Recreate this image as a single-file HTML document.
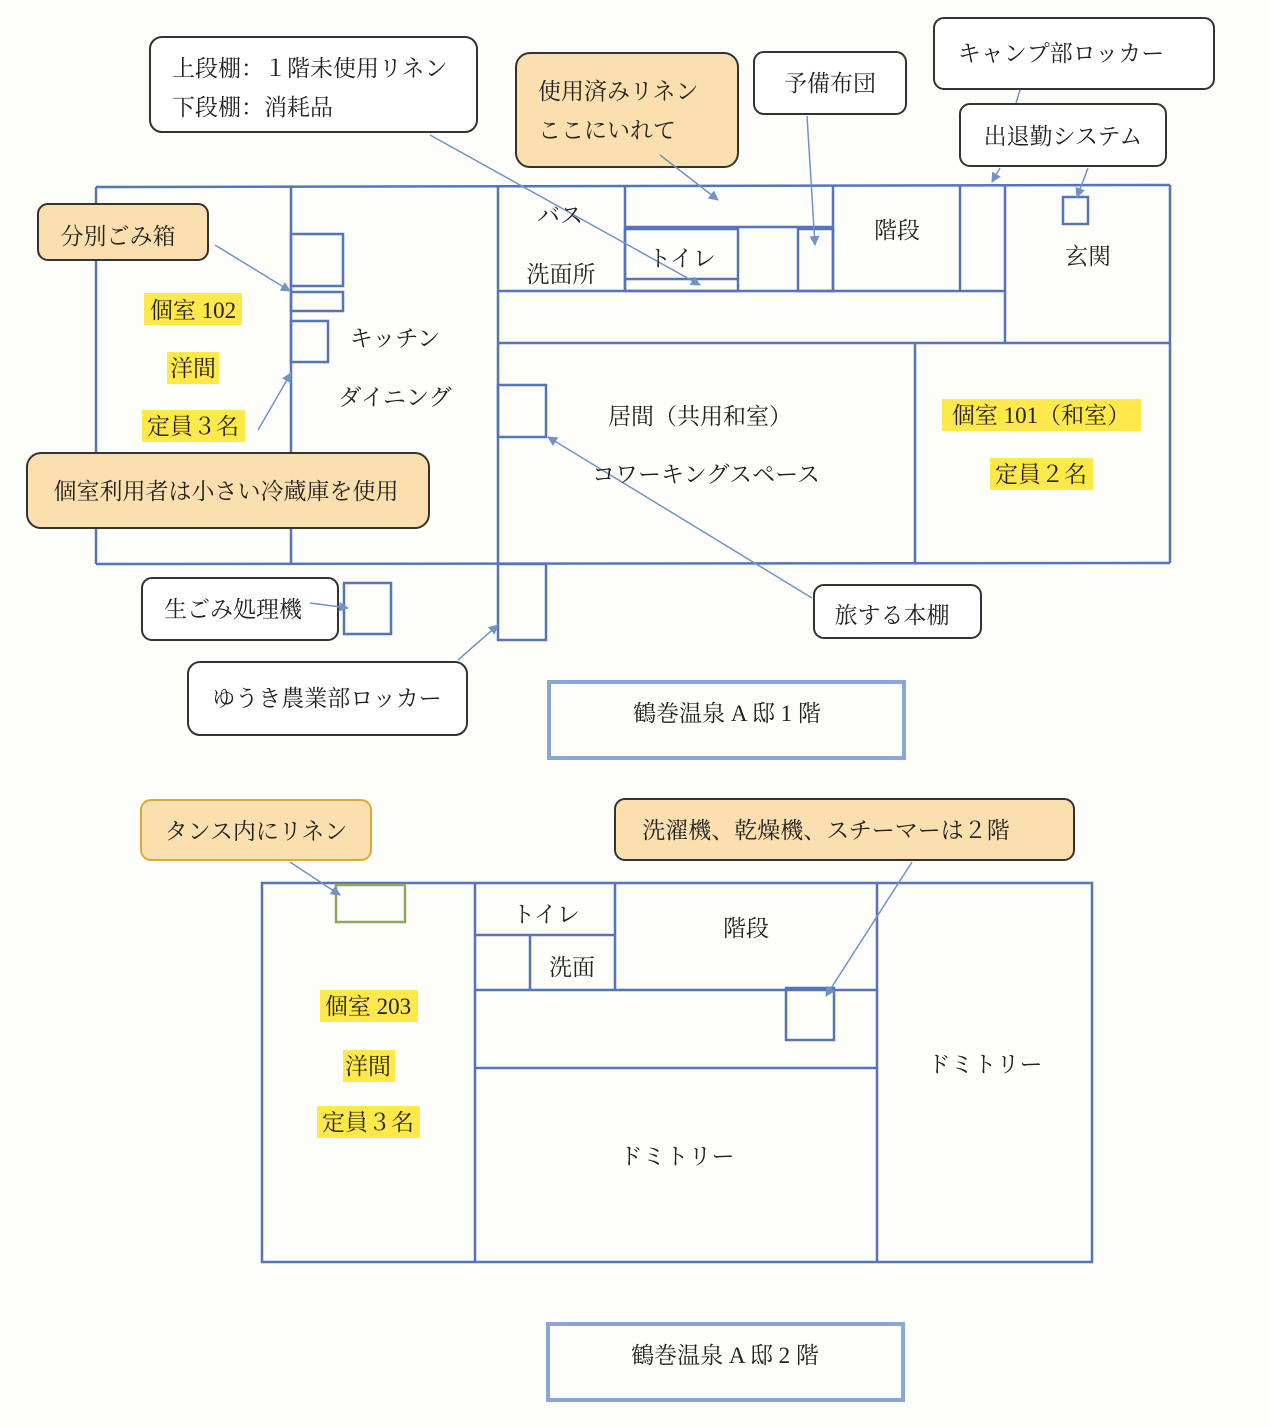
<!DOCTYPE html>
<html><head><meta charset="utf-8"><style>
html,body{margin:0;padding:0;background:#fdfdfa;}
svg{display:block;}
text{font-family:"Liberation Serif","Noto Serif CJK SC","Noto Sans CJK JP",serif;font-size:23px;fill:#222;}
</style></head><body>
<svg width="1270" height="1427" viewBox="0 0 1270 1427" xmlns="http://www.w3.org/2000/svg">
<defs>
<marker id="a" markerWidth="10" markerHeight="10" refX="9" refY="5" orient="auto" markerUnits="userSpaceOnUse"><path d="M0,0 L10,5 L0,10 z" fill="#6f93c9"/></marker>
</defs>
<rect width="1270" height="1427" fill="#fdfdfa"/>
<g fill="none" stroke="#5575b5" stroke-width="2.5">
<!-- floor 1 -->
<line x1="96" y1="187" x2="1170" y2="185"/>
<line x1="96" y1="187" x2="96" y2="564"/>
<line x1="96" y1="564" x2="1170" y2="563"/>
<line x1="1170" y1="185" x2="1170" y2="563"/>
<line x1="291" y1="187" x2="291" y2="564"/>
<line x1="498" y1="187" x2="498" y2="564"/>
<line x1="498" y1="291" x2="1005" y2="291"/>
<line x1="625" y1="187" x2="625" y2="291"/>
<line x1="625" y1="227" x2="833" y2="227"/>
<rect x="625" y="229" width="113" height="62"/>
<line x1="625" y1="279" x2="738" y2="279"/>
<rect x="798" y="229" width="35" height="62"/>
<line x1="833" y1="186" x2="833" y2="291"/>
<line x1="960" y1="186" x2="960" y2="291"/>
<line x1="1005" y1="186" x2="1005" y2="343"/>
<line x1="498" y1="343" x2="1170" y2="343"/>
<line x1="915" y1="343" x2="915" y2="563"/>
<rect x="1063" y="197" width="25" height="27"/>
<rect x="291" y="234" width="52" height="52"/>
<rect x="291" y="292" width="52" height="19"/>
<rect x="291" y="321" width="37" height="41"/>
<rect x="498" y="385" width="48" height="52"/>
<rect x="344" y="583" width="47" height="51"/>
<rect x="498" y="564" width="48" height="76"/>
<!-- floor 2 -->
<rect x="262" y="883" width="830" height="379"/>
<line x1="475" y1="883" x2="475" y2="1262"/>
<line x1="615" y1="883" x2="615" y2="990"/>
<line x1="475" y1="935" x2="615" y2="935"/>
<line x1="530" y1="935" x2="530" y2="990"/>
<line x1="475" y1="990" x2="877" y2="990"/>
<line x1="475" y1="1068" x2="877" y2="1068"/>
<line x1="877" y1="883" x2="877" y2="1262"/>
<rect x="786" y="988" width="48" height="52"/>
</g>
<rect x="336" y="885" width="69" height="37" fill="none" stroke="#8fa85a" stroke-width="2.5"/>
<!-- title boxes -->
<rect x="549" y="682" width="355" height="76" fill="none" stroke="#8aa6d8" stroke-width="4"/>
<rect x="548" y="1324" width="355" height="76" fill="none" stroke="#8aa6d8" stroke-width="4"/>
<!-- callouts -->
<g stroke="#333" stroke-width="2">
<rect x="150" y="37" width="327" height="95" rx="12" fill="#fff"/>
<rect x="516" y="53" width="222" height="114" rx="14" fill="#fbdfae"/>
<rect x="754" y="52" width="152" height="62" rx="10" fill="#fff"/>
<rect x="934" y="18" width="280" height="71" rx="10" fill="#fff"/>
<rect x="960" y="104" width="206" height="62" rx="10" fill="#fff"/>
<rect x="38" y="204" width="170" height="56" rx="10" fill="#fbdfae"/>
<rect x="27" y="453" width="402" height="75" rx="14" fill="#fbdfae"/>
<rect x="142" y="578" width="196" height="62" rx="10" fill="#fff"/>
<rect x="188" y="662" width="279" height="73" rx="12" fill="#fff"/>
<rect x="814" y="585" width="167" height="53" rx="10" fill="#fff"/>
<rect x="615" y="799" width="459" height="61" rx="10" fill="#fbdfae"/>
</g>
<rect x="141" y="800" width="230" height="60" rx="10" fill="#fbdfae" stroke="#e0a830" stroke-width="2"/>
<!-- arrows -->
<g stroke="#6f93c9" stroke-width="1.5" fill="none" marker-end="url(#a)">
<line x1="430" y1="135" x2="700" y2="285"/>
<line x1="660" y1="155" x2="718" y2="200"/>
<line x1="807" y1="116" x2="815" y2="245"/>
<line x1="1000" y1="168" x2="992" y2="182"/>
<line x1="1088" y1="168" x2="1077" y2="197"/>
<line x1="215" y1="245" x2="290" y2="291"/>
<line x1="258" y1="430" x2="291" y2="373"/>
<line x1="310" y1="603" x2="348" y2="608"/>
<line x1="458" y1="660" x2="498" y2="625"/>
<line x1="812" y1="598" x2="548" y2="437"/>
<line x1="290" y1="862" x2="340" y2="895"/>
<line x1="912" y1="862" x2="826" y2="996"/>
</g>
<line x1="1020" y1="90" x2="1016" y2="103" stroke="#6f93c9" stroke-width="1.5"/>
<!-- highlights -->
<g fill="#ffe94a">
<rect x="144" y="293" width="98" height="32"/>
<rect x="167" y="352" width="52" height="32"/>
<rect x="142" y="410" width="103" height="32"/>
<rect x="942" y="399" width="199" height="32"/>
<rect x="990" y="458" width="103" height="32"/>
<rect x="320" y="990" width="98" height="32"/>
<rect x="343" y="1050" width="52" height="32"/>
<rect x="317" y="1106" width="103" height="32"/>
</g>
<!-- callout text -->
<text x="172" y="76">上段棚：１階未使用リネン</text>
<text x="172" y="115">下段棚：消耗品</text>
<text x="538" y="99">使用済みリネン</text>
<text x="538" y="138">ここにいれて</text>
<g text-anchor="middle">
<text x="830" y="91">予備布団</text>
<text x="1061" y="61">キャンプ部ロッカー</text>
<text x="1063" y="144">出退勤システム</text>
<text x="118" y="244">分別ごみ箱</text>
<text x="226" y="499">個室利用者は小さい冷蔵庫を使用</text>
<text x="233" y="617">生ごみ処理機</text>
<text x="327" y="706">ゆうき農業部ロッカー</text>
<text x="892" y="623">旅する本棚</text>
<text x="256" y="839">タンス内にリネン</text>
<text x="826" y="838">洗濯機、乾燥機、スチーマーは２階</text>
<!-- room labels -->
<text x="560" y="223">バス</text>
<text x="561" y="282">洗面所</text>
<text x="682" y="266">トイレ</text>
<text x="897" y="238">階段</text>
<text x="1088" y="264">玄関</text>
<text x="395" y="346">キッチン</text>
<text x="395" y="405">ダイニング</text>
<text x="700" y="424">居間（共用和室）</text>
<text x="706" y="482">コワーキングスペース</text>
<text x="193" y="318">個室 102</text>
<text x="193" y="376">洋間</text>
<text x="193" y="434">定員３名</text>
<text x="1041" y="423">個室 101（和室）</text>
<text x="1041" y="482">定員２名</text>
<text x="727" y="721">鶴巻温泉 A 邸 1 階</text>
<text x="546" y="922">トイレ</text>
<text x="572" y="975">洗面</text>
<text x="746" y="936">階段</text>
<text x="985" y="1072">ドミトリー</text>
<text x="677" y="1164">ドミトリー</text>
<text x="368" y="1014">個室 203</text>
<text x="368" y="1074">洋間</text>
<text x="368" y="1130">定員３名</text>
<text x="725" y="1363">鶴巻温泉 A 邸 2 階</text>
</g>
</svg>
</body></html>
